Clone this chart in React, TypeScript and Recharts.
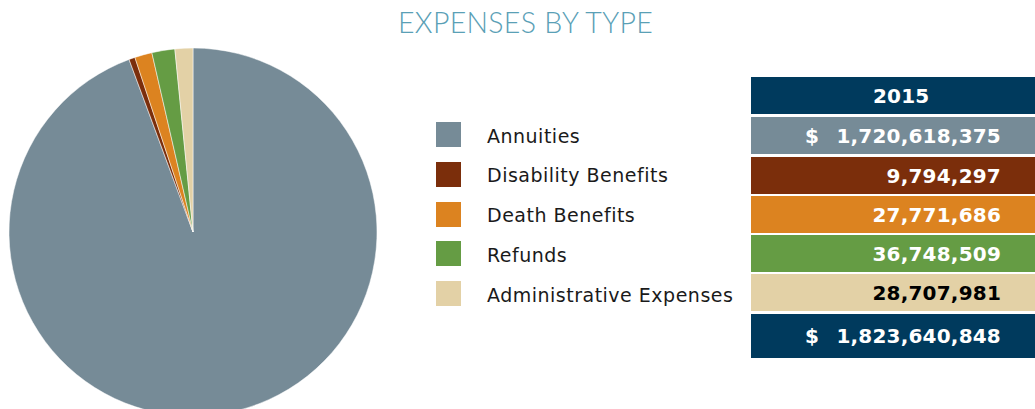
import { Cell, Pie, PieChart } from 'recharts';

const categories = ['Annuities', 'Disability Benefits', 'Death Benefits', 'Refunds', 'Administrative Expenses'];
const amounts2015 = [1720618375, 9794297, 27771686, 36748509, 28707981];
const colors = ['#768b97', '#7b2e0b', '#dc8320', '#659c44', '#e3d1a6'];
const textColors = ['#ffffff', '#ffffff', '#ffffff', '#ffffff', '#000000'];
const yearLabel = '2015';

const navy = '#003a5d';
const data = categories.map((name, i) => ({ name, value: amounts2015[i] }));
const total = amounts2015.reduce((a, b) => a + b, 0);
const fmt = (n: number) => n.toLocaleString('en-US');

const cellText: React.CSSProperties = {
  fontFamily: '"DejaVu Sans", Verdana, sans-serif',
  fontWeight: 'bold',
  fontSize: 20,
  letterSpacing: 0.2,
  position: 'absolute',
  top: 0,
  bottom: 0,
  display: 'flex',
  alignItems: 'center',
};

function Row({ top, height, bg, color, label, dollar }: { top: number; height: number; bg: string; color: string; label: string; dollar?: boolean }) {
  return (
    <div style={{ position: 'absolute', left: 751, width: 300, top, height, background: bg, color }}>
      {dollar && <span style={{ ...cellText, left: 54 }}>$</span>}
      <span style={{ ...cellText, right: 50 }}>{label}</span>
    </div>
  );
}

export default function App() {
  const rowTops = [117, 157, 196, 235, 274];
  return (
    <div style={{ position: 'absolute', left: 0, top: 0, width: 1035, height: 409, overflow: 'hidden', background: '#fff' }}>
      <div
        style={{
          position: 'absolute',
          left: 398,
          top: 5,
          whiteSpace: 'nowrap',
          fontFamily: 'Lato, "Open Sans", sans-serif',
          fontWeight: 300,
          fontSize: 28.5,
          letterSpacing: 0.3,
          color: '#5aa0b6',
        }}
      >
        EXPENSES BY TYPE
      </div>
      <div style={{ position: 'absolute', left: 0, top: 0 }}>
        <PieChart width={400} height={430} margin={{ top: 0, right: 0, bottom: 0, left: 0 }}>
          <Pie
            data={data}
            dataKey="value"
            nameKey="name"
            cx={193}
            cy={232}
            outerRadius={184}
            startAngle={90}
            endAngle={-270}
            stroke="#ffffff"
            strokeWidth={0.5}
            isAnimationActive={false}
          >
            {data.map((d, i) => (
              <Cell key={d.name} fill={colors[i]} />
            ))}
          </Pie>
        </PieChart>
      </div>
      {categories.map((c, i) => (
        <div key={c} style={{ position: 'absolute', left: 436, top: 122 + i * 39.8, height: 25, display: 'flex', alignItems: 'center' }}>
          <div style={{ width: 25, height: 25, background: colors[i] }} />
          <span style={{ marginLeft: 26, marginTop: 2, fontFamily: '"DejaVu Sans", Verdana, sans-serif', fontSize: 19, letterSpacing: 0.5, color: '#1a1a1a' }}>{c}</span>
        </div>
      ))}
      <div style={{ position: 'absolute', left: 751, width: 300, top: 77, height: 37, background: navy, color: '#fff' }}>
        <span style={{ ...cellText, left: 122 }}>{yearLabel}</span>
      </div>
      {categories.map((c, i) => (
        <Row key={c} top={rowTops[i]} height={37} bg={colors[i]} color={textColors[i]} label={fmt(amounts2015[i])} dollar={i === 0} />
      ))}
      <Row top={314} height={44} bg={navy} color="#fff" label={fmt(total)} dollar />
    </div>
  );
}
